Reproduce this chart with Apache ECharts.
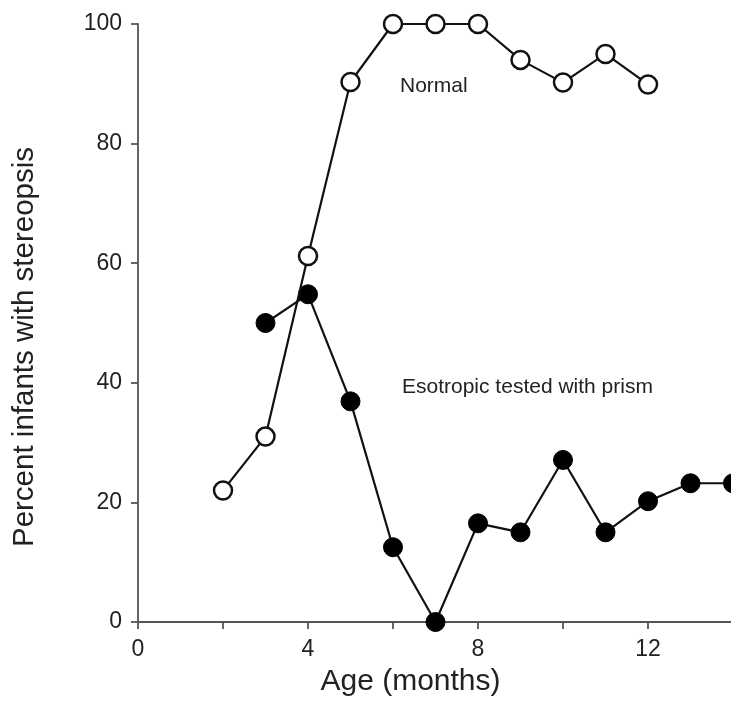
<!DOCTYPE html>
<html>
<head>
<meta charset="utf-8">
<script src="https://cdn.jsdelivr.net/npm/echarts@6/dist/echarts.min.js"></script>
<style>
    html, body { margin: 0; padding: 0; background: #fff; }
    #chart { width: 731px; height: 717px; }
</style>
</head>
<body>
<div id="chart"></div>
<script>
// 年龄（月）
var normalAges = [2, 3, 4, 5, 6, 7, 8, 9, 10, 11, 12];
var normalPct = [22, 31, 61.2, 90.3, 100, 100, 100, 94, 90.2, 95, 89.9];
var esoAges = [3, 4, 5, 6, 7, 8, 9, 10, 11, 12, 13, 14];
var esoPct = [50, 54.8, 36.9, 12.5, 0, 16.5, 15, 27.1, 15, 20.2, 23.2, 23.2];
var xLabels = [0, 4, 8, 12];

function pairs(xs, ys) {
    return xs.map(function (x, i) { return [x, ys[i]]; });
}

var font = 'Liberation Sans, Arial, sans-serif';
var axisColor = '#555';

var option = {
    animation: false,
    backgroundColor: '#fff',
    grid: {
        left: 138,
        top: 24,
        right: -2,
        bottom: 95,
        containLabel: false,
        outerBoundsMode: 'none'
    },
    xAxis: {
        type: 'value',
        min: 0,
        max: 14,
        interval: 2,
        name: 'Age (months)',
        nameLocation: 'middle',
        nameGap: 45,
        nameTextStyle: { fontFamily: font, fontSize: 30, color: '#222', padding: [0, 50, 0, 0] },
        axisLine: { show: true, lineStyle: { color: axisColor, width: 1.8 } },
        axisTick: { show: true, length: 7, lineStyle: { color: axisColor, width: 1.8 } },
        axisLabel: {
            margin: 16,
            fontFamily: font,
            fontSize: 23,
            color: '#222',
            formatter: function (v) { return xLabels.indexOf(v) >= 0 ? String(v) : ''; }
        },
        splitLine: { show: false }
    },
    yAxis: {
        type: 'value',
        min: 0,
        max: 100,
        interval: 20,
        name: 'Percent infants with stereopsis',
        nameLocation: 'middle',
        nameRotate: 90,
        nameGap: 98,
        nameTextStyle: { fontFamily: font, fontSize: 29.5, color: '#222', padding: [0, 48, 0, 0] },
        axisLine: { show: true, lineStyle: { color: axisColor, width: 1.8 } },
        axisTick: { show: true, length: 7, lineStyle: { color: axisColor, width: 1.8 } },
        axisLabel: { margin: 16, fontFamily: font, fontSize: 23, color: '#222' },
        splitLine: { show: false }
    },
    series: [
        {
            name: 'Esotropic tested with prism',
            type: 'line',
            data: pairs(esoAges, esoPct),
            symbol: 'circle',
            symbolSize: 19,
            lineStyle: { color: '#111', width: 2.2 },
            itemStyle: { color: '#000', borderColor: '#000', borderWidth: 1 },
            z: 3
        },
        {
            name: 'Normal',
            type: 'line',
            data: pairs(normalAges, normalPct),
            symbol: 'circle',
            symbolSize: 18,
            lineStyle: { color: '#111', width: 2.2 },
            itemStyle: { color: '#fff', borderColor: '#111', borderWidth: 2.5 },
            z: 4
        }
    ],
    // 图中文字标注
    graphic: [
        {
            type: 'text',
            left: 400,
            top: 76,
            style: { text: 'Normal', font: '21px ' + font, fill: '#222' }
        },
        {
            type: 'text',
            left: 402,
            top: 377,
            style: { text: 'Esotropic tested with prism', font: '21px ' + font, fill: '#222' }
        }
    ]
};

var myChart = echarts.init(document.getElementById('chart'));
myChart.setOption(option);
</script>
</body>
</html>
